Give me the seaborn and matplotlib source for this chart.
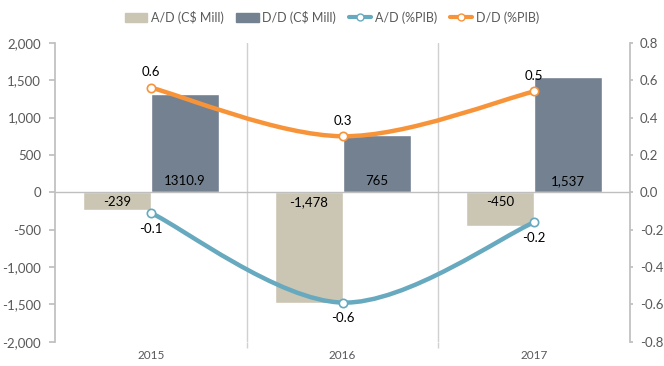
import numpy as np
import pandas as pd
import seaborn as sns
import matplotlib.pyplot as plt
from matplotlib.path import Path
from matplotlib.patches import PathPatch, Patch
from matplotlib.lines import Line2D
from matplotlib.ticker import FuncFormatter

years = ["2015", "2016", "2017"]
ad_mill = [-239, -1478, -450]
dd_mill = [1310.9, 765, 1537]
ad_mill_lbl = ["-239", "-1,478", "-450"]
dd_mill_lbl = ["1310.9", "765", "1,537"]
ad_pib = [-0.11, -0.59, -0.16]
dd_pib = [0.56, 0.30, 0.54]
ad_pib_lbl = ["-0.1", "-0.6", "-0.2"]
dd_pib_lbl = ["0.6", "0.3", "0.5"]

c_ad_bar = "#cbc5b3"
c_dd_bar = "#748191"
c_ad_line = "#67a9bf"
c_dd_line = "#f7943a"
c_tick = "#595959"

sns.set_theme(style="white")
plt.rcParams['font.family'] = ['Lato', 'DejaVu Sans']

df = pd.DataFrame({
    "year": years * 2,
    "serie": ["A/D (C$ Mill)"] * 3 + ["D/D (C$ Mill)"] * 3,
    "valor": ad_mill + dd_mill,
})

fig = plt.figure(figsize=(6.64, 3.66), dpi=100)
ax = fig.add_axes([0.083, 0.066, 0.866, 0.817])
sns.barplot(data=df, x="year", y="valor", hue="serie", order=years,
            palette=[c_ad_bar, c_dd_bar], width=0.71, saturation=1,
            ax=ax, legend=False)
ax.set_ylim(-2000, 2000)
ax.set_xlim(-0.5, 2.5)
ax.set_yticks(range(-2000, 2001, 500))
ax.yaxis.set_major_formatter(FuncFormatter(lambda v, p: f"{int(v):,}"))
ax.set_xlabel("")
ax.set_ylabel("")
ax.axhline(0, color="#bfbfbf", lw=1, zorder=1)
for xs in [0.5, 1.5]:
    ax.axvline(xs, color="#d0d0d0", lw=1, zorder=0)
ax.set_xticks([0.5, 1.5], minor=True)
ax.tick_params(axis="x", which="major", length=0, pad=6, labelsize=8.5, labelcolor=c_tick)
ax.tick_params(axis="x", which="minor", length=4, color="#d0d0d0", bottom=True)
ax.tick_params(axis="y", length=4, color="#bfbfbf", left=True, labelsize=9.5, labelcolor=c_tick, pad=6)
for s in ["top", "bottom", "right"]:
    ax.spines[s].set_visible(False)
ax.spines["left"].set_color("#bfbfbf")

# bar labels at the base of each bar
for cont, lbls in zip(ax.containers, [ad_mill_lbl, dd_mill_lbl]):
    for p, t in zip(cont.patches, lbls):
        h = p.get_height()
        xc = p.get_x() + p.get_width() / 2
        if h >= 0:
            ax.annotate(t, (xc, 0), xytext=(0, 4), textcoords="offset points",
                        ha="center", va="bottom", fontsize=9.5, color="black")
        else:
            ax.annotate(t, (xc, 0), xytext=(0, -3), textcoords="offset points",
                        ha="center", va="top", fontsize=9.5, color="black")

ax2 = ax.twinx()
ax2.set_ylim(-0.8, 0.8)
ax2.set_yticks(np.arange(-0.8, 0.81, 0.2))
ax2.yaxis.set_major_formatter(FuncFormatter(lambda v, p: f"{round(v, 1) + 0.0:.1f}"))
ax2.tick_params(axis="y", length=2, color="#bfbfbf", right=True, labelsize=9.5, labelcolor=c_tick, pad=5)
for s in ["top", "bottom", "left"]:
    ax2.spines[s].set_visible(False)
ax2.spines["right"].set_color("#bfbfbf")


def smooth_path(xv, yv):
    # Catmull-Rom curve through the points as cubic bezier segments
    pts = np.column_stack([xv, yv]).astype(float)
    ext = np.vstack([pts[0], pts, pts[-1]])
    verts = [tuple(pts[0])]
    codes = [Path.MOVETO]
    for i in range(1, len(ext) - 2):
        p0, p1, p2, p3 = ext[i - 1], ext[i], ext[i + 1], ext[i + 2]
        c1 = p1 + (p2 - p0) / 6
        c2 = p2 - (p3 - p1) / 6
        verts += [tuple(c1), tuple(c2), tuple(p2)]
        codes += [Path.CURVE4] * 3
    return Path(verts, codes)


xpos = np.arange(len(years))
for vals, col in [(ad_pib, c_ad_line), (dd_pib, c_dd_line)]:
    ax2.add_patch(PathPatch(smooth_path(xpos, vals), facecolor="none",
                            edgecolor=col, lw=3.2, capstyle="round", zorder=3))
    ax2.plot(xpos, vals, ls="none", marker="o", ms=6, mfc="white",
             mec=col, mew=1.2, zorder=4)

for x, v, t in zip(xpos, dd_pib, dd_pib_lbl):
    ax2.annotate(t, (x, v), xytext=(0, 7), textcoords="offset points",
                 ha="center", va="bottom", fontsize=9.5, color="black")
for x, v, t in zip(xpos, ad_pib, ad_pib_lbl):
    ax2.annotate(t, (x, v), xytext=(0, -7), textcoords="offset points",
                 ha="center", va="top", fontsize=9.5, color="black")

handles = [
    Patch(color=c_ad_bar, label="A/D (C$ Mill)"),
    Patch(color=c_dd_bar, label="D/D (C$ Mill)"),
    Line2D([0], [0], color=c_ad_line, lw=3, marker="o", mfc="white", mec=c_ad_line, ms=5, label="A/D (%PIB)"),
    Line2D([0], [0], color=c_dd_line, lw=3, marker="o", mfc="white", mec=c_dd_line, ms=5, label="D/D (%PIB)"),
]
fig.legend(handles=handles, loc="center", bbox_to_anchor=(0.5, 0.953), ncol=4,
           frameon=False, fontsize=9, handlelength=1.8, handletextpad=0.3,
           columnspacing=1.0, labelcolor=c_tick)

fig.savefig("out.png", dpi=100)
